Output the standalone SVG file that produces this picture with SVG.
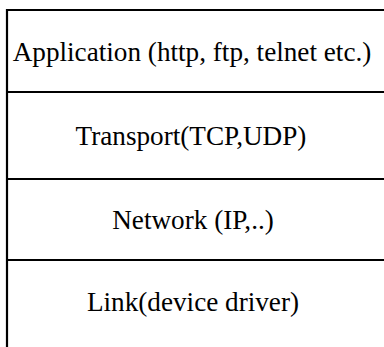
<svg xmlns="http://www.w3.org/2000/svg" width="384" height="347" viewBox="0 0 384 347">
<style>
.ln{stroke:#000;stroke-width:2.2;fill:none}
.t{font-family:"Liberation Serif","Times New Roman",serif;font-size:27.2px;fill:#000;text-anchor:middle}
</style>
<rect width="384" height="347" fill="#fff"/>
<g id="connectors">
<path class="ln" d="M7,347 V10 H384"/>
<path class="ln" d="M7,92 H384"/>
<path class="ln" d="M7,179 H384"/>
<path class="ln" d="M7,260 H384"/>
</g>
<g id="application"><text class="t" x="192" y="61">Application (http, ftp, telnet etc.)</text></g>
<g id="transport"><text class="t" x="191" y="145">Transport(TCP,UDP)</text></g>
<g id="network"><text class="t" x="193" y="229">Network (IP,..)</text></g>
<g id="link"><text class="t" x="193" y="311">Link(device driver)</text></g>
</svg>
